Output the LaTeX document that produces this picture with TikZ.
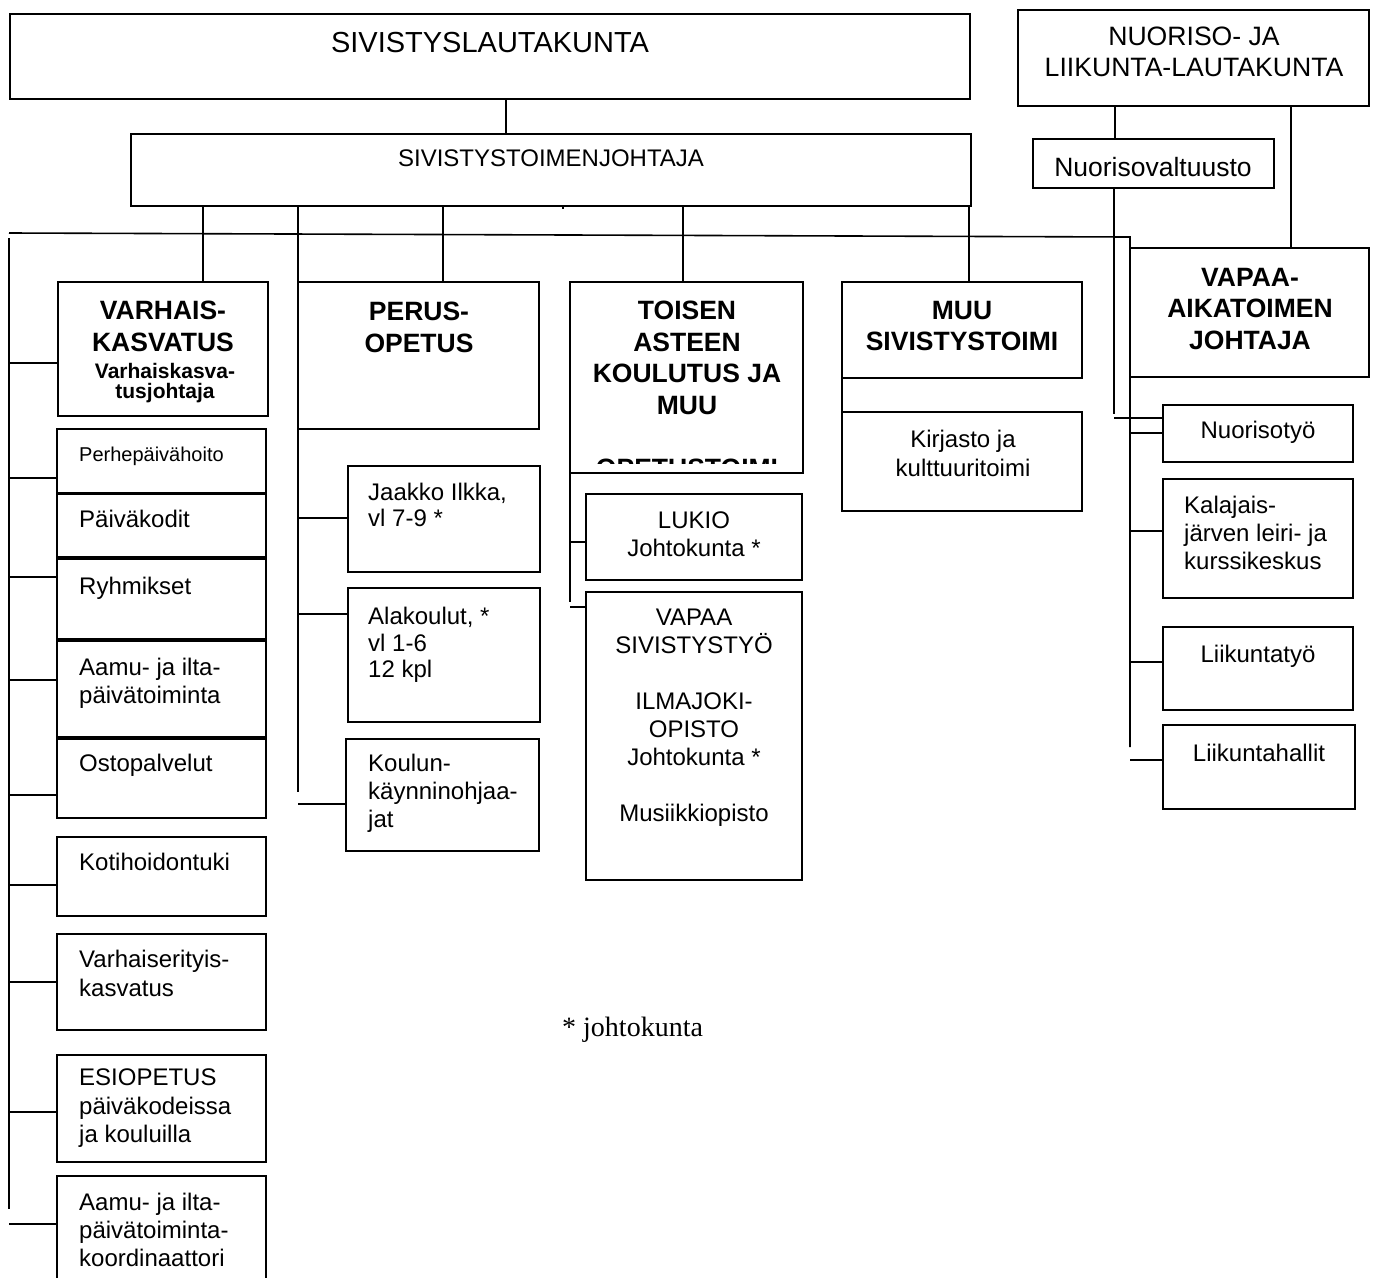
\documentclass[tikz,border=0pt]{standalone}
\usepackage{fontspec}
\setmainfont{Liberation Sans}
\newfontfamily\notefont{Liberation Serif}

\begin{document}
\begin{tikzpicture}[x=1pt, y=-1pt,
    box/.style={draw, line width=2pt, inner sep=0pt, outer sep=0pt, anchor=north west},
    conn/.style={line width=1.6pt},
    head/.style={font=\bfseries\fontsize{26.5}{31.5}\selectfont, align=center, anchor=north, inner sep=0pt},
    txt/.style={font=\fontsize{24}{27.5}\selectfont, align=center, anchor=north, inner sep=0pt},
    ltxt/.style={txt, align=left, anchor=north west}]
    \useasboundingbox (0,0) rectangle (1373,1277);

    % boards and the head of office
    \draw (10,14) node[box, minimum width=960pt, minimum height=85pt] (sivl) {};
    \draw (1018,10) node[box, minimum width=351pt, minimum height=96pt] (nuol) {};
    \draw (131,134) node[box, minimum width=840pt, minimum height=72pt] (sivj) {};
    \draw (1033,139) node[box, minimum width=241pt, minimum height=49pt] (nval) {};
    \draw (490,32) node[txt, font=\fontsize{29}{33}\selectfont] (sivlt) {SIVISTYSLAUTAKUNTA};
    \draw (1194,27) node[txt, font=\fontsize{26.6}{31}\selectfont] (nuolt) {NUORISO- JA\\LIIKUNTA-LAUTAKUNTA};
    \draw (551,150) node[txt] (sivjt) {SIVISTYSTOIMENJOHTAJA};
    \draw (1153,157) node[txt, font=\fontsize{26.5}{30}\selectfont] (nvalt) {Nuorisovaltuusto};

    % sectors
    \draw (58,282) node[box, minimum width=210pt, minimum height=134pt] (varh) {};
    \draw (298,282) node[box, minimum width=241pt, minimum height=147pt] (perus) {};
    \draw (570,282) node[box, minimum width=233pt, minimum height=191pt] (toisen) {};
    \draw (842,282) node[box, minimum width=240pt, minimum height=96pt] (muu) {};
    \draw (1130,248) node[box, minimum width=239pt, minimum height=129pt] (vaika) {};
    \draw (163,301) node[head] (varht) {VARHAIS-\\KASVATUS};
    \draw (165,363) node[head, font=\bfseries\fontsize{21}{20}\selectfont] (varhs) {Varhaiskasva-\\tusjohtaja};
    \draw (419,302) node[head] (perust) {PERUS-\\OPETUS};
    \begin{scope}
        \clip (571,283) rectangle (802,463.5);
        \draw (687,301) node[head] (toisent) {TOISEN\\ASTEEN\\KOULUTUS JA\\MUU\\[31.5pt]OPETUSTOIMI};
    \end{scope}
    \draw (962,301) node[head] (muut) {MUU\\SIVISTYSTOIMI};
    \draw (1250,268) node[head] (vaikat) {VAPAA-\\AIKATOIMEN\\JOHTAJA};

    % early childhood
    \draw (57,429) node[box, minimum width=209pt, minimum height=64pt] (perhe) {};
    \draw (57,494) node[box, minimum width=209pt, minimum height=63pt] (paiva) {};
    \draw (57,559) node[box, minimum width=209pt, minimum height=80pt] (ryhm) {};
    \draw (57,641) node[box, minimum width=209pt, minimum height=96pt] (aamu) {};
    \draw (57,739) node[box, minimum width=209pt, minimum height=79pt] (osto) {};
    \draw (57,837) node[box, minimum width=209pt, minimum height=79pt] (koti) {};
    \draw (57,934) node[box, minimum width=209pt, minimum height=96pt] (erit) {};
    \draw (57,1055) node[box, minimum width=209pt, minimum height=107pt] (esio) {};
    \draw (57,1176) node[box, minimum width=209pt, minimum height=114pt] (koord) {};
    \draw (79,447) node[ltxt, font=\fontsize{20}{24}\selectfont] (perhet) {Perhepäivähoito};
    \draw (79,510) node[ltxt] (paivat) {Päiväkodit};
    \draw (79,577) node[ltxt] (ryhmt) {Ryhmikset};
    \draw (79,658) node[ltxt] (aamut) {Aamu- ja ilta-\\päivätoiminta};
    \draw (79,754) node[ltxt] (ostot) {Ostopalvelut};
    \draw (79,853) node[ltxt] (kotit) {Kotihoidontuki};
    \draw (79,950) node[ltxt, font=\fontsize{24}{28.5}\selectfont] (eritt) {Varhaiserityis-\\kasvatus};
    \draw (79,1069) node[ltxt, font=\fontsize{24}{28.5}\selectfont] (esiot) {ESIOPETUS\\päiväkodeissa\\ja kouluilla};
    \draw (79,1193) node[ltxt, font=\fontsize{24}{28}\selectfont] (koordt) {Aamu- ja ilta-\\päivätoiminta-\\koordinaattori};

    % basic education
    \draw (348,466) node[box, minimum width=192pt, minimum height=106pt] (jaakko) {};
    \draw (348,588) node[box, minimum width=192pt, minimum height=134pt] (ala) {};
    \draw (346,739) node[box, minimum width=193pt, minimum height=112pt] (ohj) {};
    \draw (368,483) node[ltxt, font=\fontsize{24}{26}\selectfont] (jaakkot) {Jaakko Ilkka,\\vl 7-9 *};
    \draw (368,607) node[ltxt, font=\fontsize{24}{26.5}\selectfont] (alat) {Alakoulut, *\\vl 1-6\\12 kpl};
    \draw (368,754) node[ltxt, font=\fontsize{24}{28}\selectfont] (ohjt) {Koulun-\\käynninohjaa-\\jat};

    % upper secondary and other
    \draw (586,494) node[box, minimum width=216pt, minimum height=86pt] (lukio) {};
    \draw (586,592) node[box, minimum width=216pt, minimum height=288pt] (vsiv) {};
    \draw (842,412) node[box, minimum width=240pt, minimum height=99pt] (kirj) {};
    \draw (694,512) node[txt, font=\fontsize{24}{28}\selectfont] (lukiot) {LUKIO\\Johtokunta *};
    \draw (694,609) node[txt, font=\fontsize{24}{28}\selectfont] (vsivt) {VAPAA\\SIVISTYSTYÖ\\[28pt]ILMAJOKI-\\OPISTO\\Johtokunta *\\[28pt]Musiikkiopisto};
    \draw (963,430) node[txt, font=\fontsize{24}{29}\selectfont] (kirjt) {Kirjasto ja\\kulttuuritoimi};

    % leisure
    \draw (1163,405) node[box, minimum width=190pt, minimum height=57pt] (nuty) {};
    \draw (1163,479) node[box, minimum width=190pt, minimum height=119pt] (kala) {};
    \draw (1163,627) node[box, minimum width=190pt, minimum height=83pt] (liik) {};
    \draw (1163,725) node[box, minimum width=192pt, minimum height=84pt] (halli) {};
    \draw (1258,421) node[txt] (nutyt) {Nuorisotyö};
    \draw (1184,496) node[ltxt, font=\fontsize{24}{28}\selectfont] (kalat) {Kalajais-\\järven leiri- ja\\kurssikeskus};
    \draw (1258,645) node[txt] (liikt) {Liikuntatyö};
    \draw (1259,744) node[txt] (hallit) {Liikuntahallit};

    \draw (562,1036) node[anchor=base west, inner sep=0pt, font=\notefont\fontsize{28}{32}\selectfont] (note) {* johtokunta};

    % connectors
    \coordinate (busw) at (9,233);
    \coordinate (buse) at (1130,237);
    \coordinate (lbus) at (9,238);
    \coordinate (lbusend) at (9,1209);
    \coordinate (pbusend) at (298,792);
    \coordinate (tbusend) at (570,602);
    \coordinate (rbusend) at (1130,747);
    \coordinate (nvalend) at (1114,414);

    \draw[conn] (sivl.south -| 506,0) -- (sivj.north -| 506,0);
    \draw[conn] (nuol.south -| 1115,0) -- (nval.north -| 1115,0);
    \draw[conn] (nuol.south -| 1291,0) -- (vaika.north -| 1291,0);
    \draw[conn] (sivj.south -| 563,0) -- ++(0,3);
    \foreach \n/\x in {varh/203, perus/443, toisen/683, muu/969}
        \draw[conn] (sivj.south -| \x,0) -- (\n.north -| \x,0);
    \draw[conn] (busw) -- (buse) -- (rbusend);
    \draw[conn] (lbus) -- (lbusend);
    \foreach \n/\y in {varh/363, perhe/478, ryhm/577, aamu/680, osto/795, koti/885, erit/982, esio/1112, koord/1224}
        \draw[conn] (lbus |- 0,\y) -- (\n.west |- 0,\y);
    \draw[conn] (sivj.south -| perus.west) -- (pbusend);
    \foreach \n/\y in {jaakko/518, ala/614, ohj/804}
        \draw[conn] (pbusend |- 0,\y) -- (\n.west |- 0,\y);
    \draw[conn] (toisen.south west) -- (tbusend);
    \foreach \n/\y in {lukio/542, vsiv/607}
        \draw[conn] (tbusend |- 0,\y) -- (\n.west |- 0,\y);
    \draw[conn] (muu.south west) -- (kirj.north west);
    \draw[conn] (nval.south -| nvalend) -- (nvalend);
    \draw[conn] (nvalend |- 0,418) -- (nuty.west |- 0,418);
    \foreach \n/\y in {nuty/433, kala/531, liik/662, halli/760}
        \draw[conn] (rbusend |- 0,\y) -- (\n.west |- 0,\y);
\end{tikzpicture}
\end{document}
